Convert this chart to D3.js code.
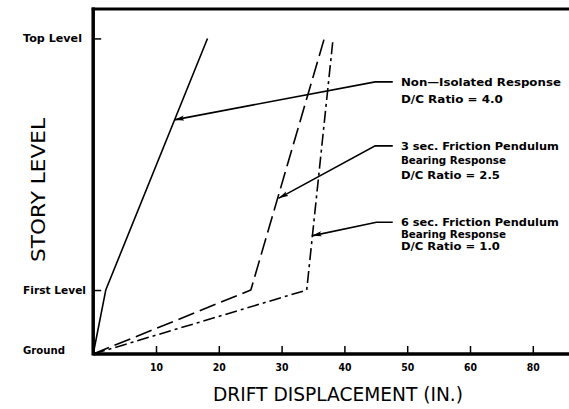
<!DOCTYPE html>
<html><head><meta charset="utf-8">
<script src="https://cdn.jsdelivr.net/npm/d3@7/dist/d3.min.js"></script>
<style>body{margin:0;background:#fff}svg{display:block}</style>
</head><body><svg id="c" width="569" height="409"></svg>
<script>
// ---- data ----
const levelNames = ["Ground", "First Level", "Top Level"];
const levelHeights = [0, 15, 74];
const xTickValues = [10, 20, 30, 40, 50, 60, 70];
const xTickLabels = ["10", "20", "30", "40", "50", "60", "80"];
const nonIsolatedDrift = [0, 2.0, 18.2];
const fp3Drift = [0, 25.1, 36.8];
const fp6Drift = [0, 34.0, 38.2];
const seriesNames = ["Non-Isolated Response", "3 sec. Friction Pendulum", "6 sec. Friction Pendulum"];
const noteLines = [
  ["Non\u2014Isolated Response", "D/C Ratio = 4.0"],
  ["3 sec. Friction Pendulum", "Bearing Response", "D/C Ratio = 2.5"],
  ["6 sec. Friction Pendulum", "Bearing Response", "D/C Ratio = 1.0"]
];
const noteTipX = [12.9, 29.5, 34.8];
const noteTipY = [54.9, 36.5, 27.7];
const noteElbowX = [44.9, 44.9, 45.1];
const noteElbowY = [63.8, 48.8, 30.9];
const noteEndX = 47.7;
const noteTextX = 49.0;
const noteLineGap = [17, 14.5, 12];
const noteWidths = [[160, 102], [158, 105, 99], [158, 105, 99]];

// ---- layout ----
const svg = d3.select("#c");
const x = d3.scaleLinear().domain([0, 76]).range([93.2, 93.2 + 76 * 6.28]);
const y = d3.scaleLinear().domain([0, 80.9]).range([354, 9]);
const boldFont = "'DejaVu Sans', sans-serif";

svg.append("defs").append("marker")
  .attr("id", "arr").attr("viewBox", "0 0 10 6").attr("refX", 10).attr("refY", 3)
  .attr("markerWidth", 10).attr("markerHeight", 6).attr("markerUnits", "userSpaceOnUse")
  .attr("orient", "auto")
  .append("path").attr("d", "M0,0.5 L10,3 L0,5.5 L2,3 Z").attr("fill", "#000");

// frame: top border, left & bottom axes
svg.append("line").attr("x1", x(0) - 1.5).attr("x2", 569).attr("y1", y(80.9)).attr("y2", y(80.9))
  .attr("stroke", "#000").attr("stroke-width", 3);
svg.append("line").attr("x1", x(0)).attr("x2", x(0)).attr("y1", y(80.9) - 1.5).attr("y2", y(0) + 1.5)
  .attr("stroke", "#000").attr("stroke-width", 3.5);

const xAxis = d3.axisBottom(x).tickValues(xTickValues).tickSize(-8)
  .tickFormat((d, i) => xTickLabels[i]).tickPadding(0);
const gx = svg.append("g").attr("transform", `translate(0,${y(0)})`).call(xAxis);
gx.select(".domain").remove();
gx.append("line").attr("x1", x(0)).attr("x2", 569).attr("y1", 0).attr("y2", 0)
  .attr("stroke", "#000").attr("stroke-width", 3.5);
gx.selectAll(".tick line").attr("stroke", "#000").attr("stroke-width", 1.5);
gx.selectAll(".tick text").attr("y", 17).attr("dy", "0").attr("font-family", boldFont)
  .attr("font-weight", "bold").attr("font-size", 11).attr("fill", "#000")
  .attr("textLength", 13).attr("lengthAdjust", "spacingAndGlyphs");

const yAxis = d3.axisLeft(y).tickValues(levelHeights.slice(1)).tickSize(-8).tickFormat("");
const gy = svg.append("g").attr("transform", `translate(${x(0)},0)`).call(yAxis);
gy.select(".domain").remove();
gy.selectAll(".tick line").attr("stroke", "#000").attr("stroke-width", 1.5);

const levelWidths = [42, 63, 59];
const levelYOffset = [-4, 0, 0];
svg.selectAll("text.lvl").data(levelNames).join("text").attr("class", "lvl")
  .attr("x", 23).attr("y", (d, i) => y(levelHeights[i]) + levelYOffset[i]).attr("dy", "0.35em")
  .attr("font-family", boldFont).attr("font-weight", "bold").attr("font-size", 11)
  .attr("textLength", (d, i) => levelWidths[i]).attr("lengthAdjust", "spacingAndGlyphs")
  .text(d => d);

// series lines
const line = d3.line().x(d => x(d[0])).y(d => y(d[1]));
const series = [
  { drift: nonIsolatedDrift, dash: null },
  { drift: fp3Drift, dash: "17,6" },
  { drift: fp6Drift, dash: "12,4,3,4" }
];
series.forEach(s => {
  svg.append("path").attr("d", line(s.drift.map((v, i) => [v, levelHeights[i]])))
    .attr("fill", "none").attr("stroke", "#000").attr("stroke-width", 1.6)
    .attr("stroke-dasharray", s.dash).attr("stroke-linejoin", "round");
});

// annotations
noteLines.forEach((lines, k) => {
  svg.append("polyline")
    .attr("points", [[noteEndX, noteElbowY[k]], [noteElbowX[k], noteElbowY[k]], [noteTipX[k], noteTipY[k]]]
      .map(p => `${x(p[0])},${y(p[1])}`).join(" "))
    .attr("fill", "none").attr("stroke", "#000").attr("stroke-width", 1.6)
    .attr("marker-end", "url(#arr)");
  lines.forEach((t, j) => {
    svg.append("text").attr("x", x(noteTextX)).attr("y", y(noteElbowY[k]) + j * noteLineGap[k])
      .attr("dy", "0.35em").attr("font-family", boldFont).attr("font-weight", "bold")
      .attr("font-size", 11).attr("textLength", noteWidths[k][j]).attr("lengthAdjust", "spacingAndGlyphs")
      .text(t);
  });
});

// axis titles
svg.append("text").attr("x", (213 + 463) / 2).attr("y", 394).attr("dy", "0.35em")
  .attr("text-anchor", "middle").attr("font-family", "'DejaVu Sans', sans-serif")
  .attr("font-size", 19).attr("textLength", 250).attr("lengthAdjust", "spacingAndGlyphs")
  .text("DRIFT DISPLACEMENT (IN.)");
svg.append("text").attr("transform", "translate(38,190) rotate(-90)").attr("dy", "0.35em")
  .attr("text-anchor", "middle").attr("font-family", "'DejaVu Sans', sans-serif")
  .attr("font-size", 19).attr("textLength", 144).attr("lengthAdjust", "spacingAndGlyphs")
  .text("STORY LEVEL");
</script></body></html>
